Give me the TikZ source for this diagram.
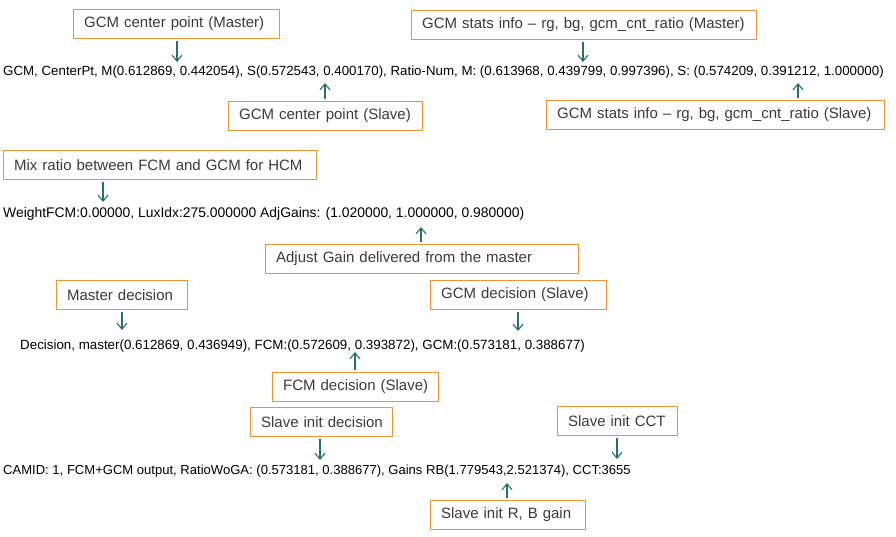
\documentclass[tikz,border=0pt]{standalone}
\usepackage{fontspec}
\setmainfont{Liberation Sans}
\usepackage{tikz}
\usetikzlibrary{arrows.meta,positioning,calc}
\definecolor{amber}{RGB}{240,146,52}
\definecolor{pine}{RGB}{38,112,114}
\definecolor{slate}{RGB}{58,58,58}
\tikzset{
  note/.style={draw=amber,line width=1.2pt,text=slate,font=\fontsize{15}{17}\selectfont,align=left,inner xsep=10.5pt,inner ysep=0pt,minimum height=29pt,anchor=north west,text width=#1,
    execute at begin node={\hbox\bgroup},execute at end node={\egroup}},
  logline/.style={anchor=base west,inner sep=0pt,font=\fontsize{#1}{15}\selectfont,text=black},
  logline/.default=13.3,
  hint/.style={-{Straight Barb[length=6pt,width=10pt]},pine,line width=1.1pt,shorten <=2pt},
}

\begin{document}
\begin{tikzpicture}[x=1pt,y=-1pt]
\useasboundingbox (0,0) rectangle (896,537);
% log lines
\node[logline] (l1) at (3,76) {GCM, CenterPt, M(0.612869, 0.442054), S(0.572543, 0.400170), Ratio-Num, M: (0.613968, 0.439799, 0.997396), S: (0.574209, 0.391212, 1.000000)};
\node[logline=13.9] (l2) at (3,218) {WeightFCM:0.00000, LuxIdx:275.000000 AdjGains: (1.020000, 1.000000, 0.980000)};
\node[logline=13.35] (l3) at (20,349) {Decision, master(0.612869, 0.436949), FCM:(0.572609, 0.393872), GCM:(0.573181, 0.388677)};
\node[logline=13.05] (l4) at (3,474) {CAMID: 1, FCM+GCM output, RatioWoGA: (0.573181, 0.388677), Gains RB(1.779543,2.521374), CCT:3655};
% notes
\node[note=185pt] (cpM) at (73,9) {GCM center point (Master)};
\node[note=173pt] (cpS) at (228,101) {GCM center point (Slave)};
\node[note=324pt] (stM) at (411,10) {GCM stats info -- rg, bg, gcm\_cnt\_ratio (Master)};
\node[note=317pt] (stS) at (546,100) {GCM stats info -- rg, bg, gcm\_cnt\_ratio (Slave)};
\node[note=292pt] (mix) at (3,150) {Mix ratio between FCM and GCM for HCM};
\node[note=292pt] (adj) at (265,244) {Adjust Gain delivered from the master};
\node[note=110pt] (mdec) at (56,280) {Master decision};
\node[note=155pt] (gdec) at (430,280) {GCM decision (Slave)};
\node[note=145pt] (fdec) at (272,372) {FCM decision (Slave)};
\node[note=121pt] (idec) at (250,407) {Slave init decision};
\node[note=99pt] (icct) at (557,406) {Slave init CCT};
\node[note=134pt] (igain) at (430,500) {Slave init R, B gain};
% arrow tips
\coordinate (tA) at (177,62);
\coordinate (tB) at (325,83);
\coordinate (tC) at (583,62);
\coordinate (tD) at (798,83);
\coordinate (tE) at (103,202);
\coordinate (tF) at (421,227);
\coordinate (tG) at (122,330);
\coordinate (tH) at (518,331);
\coordinate (tI) at (355,352);
\coordinate (tJ) at (320,460);
\coordinate (tK) at (617,459);
\coordinate (tL) at (507,483);
\draw[hint] (cpM.south -| tA) -- (tA);
\draw[hint] (cpS.north -| tB) -- (tB);
\draw[hint] (stM.south -| tC) -- (tC);
\draw[hint] (stS.north -| tD) -- (tD);
\draw[hint] (mix.south -| tE) -- (tE);
\draw[hint] (adj.north -| tF) -- (tF);
\draw[hint] (mdec.south -| tG) -- (tG);
\draw[hint] (gdec.south -| tH) -- (tH);
\draw[hint] (fdec.north -| tI) -- (tI);
\draw[hint] (idec.south -| tJ) -- (tJ);
\draw[hint] (icct.south -| tK) -- (tK);
\draw[hint] (igain.north -| tL) -- (tL);
\end{tikzpicture}
\end{document}
